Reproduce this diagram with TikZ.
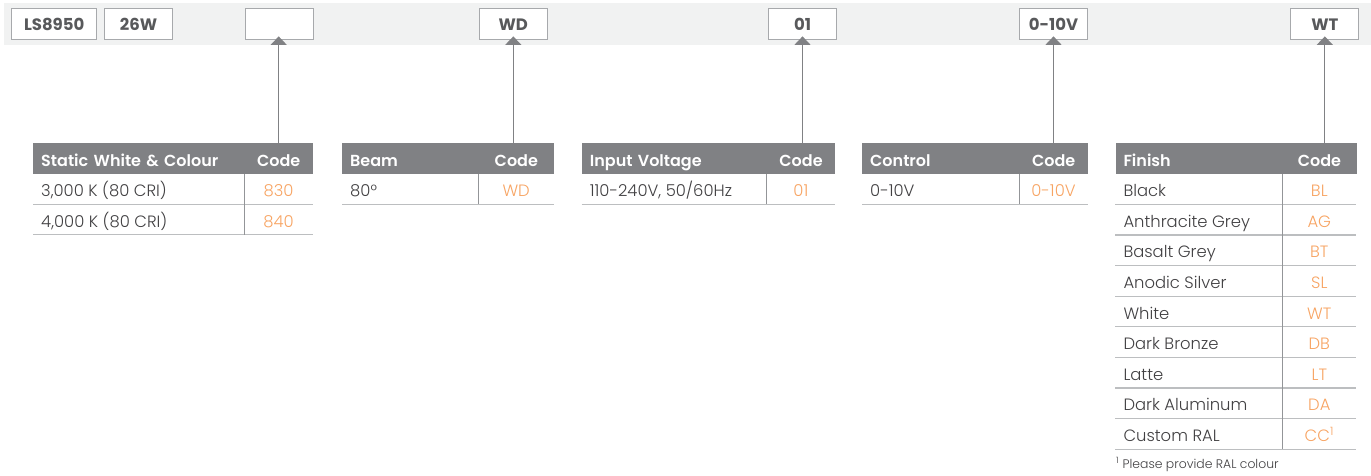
\documentclass[tikz,border=0pt]{standalone}
\usepackage{fontspec}
\usetikzlibrary{arrows.meta}
\IfFontExistsTF{Poppins Light}{\def\myRegName{Poppins Light}}{\def\myRegName{Poppins}}
\IfFontExistsTF{Poppins SemiBold}{\def\myBoldName{Poppins SemiBold}}{\def\myBoldName{Poppins Bold}}
\edef\mySetup{\noexpand\setmainfont{\myRegName}[BoldFont={\myBoldName}]}
\mySetup
\IfFontExistsTF{Poppins Bold}{\newfontfamily\myTopFont{Poppins Bold}}{\newfontfamily\myTopFont{Poppins}}
\definecolor{bandgrey}{HTML}{F1F2F2}
\definecolor{boxgrey}{HTML}{A7A9AC}
\definecolor{boxtext}{HTML}{58595B}
\definecolor{hdrgrey}{HTML}{808184}
\definecolor{rowgrey}{HTML}{BCBEC0}
\definecolor{divgrey}{HTML}{939598}
\definecolor{bodytext}{HTML}{414042}
\definecolor{codeorange}{HTML}{F7A463}
\begin{document}
\begin{tikzpicture}[x=1pt,y=-1pt,
  topbox/.style={draw=boxgrey, line width=1pt, fill=white, minimum width=#1, minimum height=31pt,
    inner sep=0pt, font=\fontsize{16.5}{18}\myTopFont, text=boxtext},
  hdrname/.style={fill=hdrgrey, anchor=north west, minimum height=31pt, inner ysep=0pt, inner xsep=8pt,
    text width=#1, align=left, text height=16.5pt, text depth=0pt, text=white,
    font=\fontsize{16}{18}\selectfont\bfseries},
  hdrcode/.style={fill=hdrgrey, anchor=north west, minimum height=31pt, inner ysep=0pt, inner xsep=0pt,
    text width=#1, align=center, text height=16.5pt, text depth=0pt, text=white,
    font=\fontsize{16}{18}\selectfont\bfseries},
  bodyname/.style={anchor=base west, inner sep=0pt, text=bodytext, font=\fontsize{16.4}{18}\selectfont},
  bodycode/.style={anchor=base, inner sep=0pt, text=codeorange, font=\fontsize{16.4}{18}\selectfont},
  rowline/.style={draw=rowgrey, line width=1.2pt},
  divline/.style={draw=divgrey, line width=1pt},
  pointer/.style={draw=hdrgrey, line width=1pt, -{Triangle[width=16pt,length=8.5pt]}, shorten >=-4pt}
]
\useasboundingbox (0,0) rectangle (1371,475);
% band
\fill[bandgrey] (4,3) rectangle (1371,44.7);
% top boxes
\node[topbox=85pt]  (bls)  at (54.2,24.4)  {LS8950};
\node[topbox=68.4pt](bw)   at (138.5,24.4) {26W};
\node[topbox=68.3pt](bcct) at (279.2,24.4) {};
\node[topbox=68pt]  (bwd)  at (513.3,24.4) {WD};
\node[topbox=68.4pt](b01)  at (802.5,24.4) {01};
\node[topbox=68.4pt](bctl) at (1053.5,24.4) {0-10V};
\node[topbox=68.3pt](bwt)  at (1324.8,24.4) {WT};

% ---------- Table 1
\node[hdrname=195.3pt] (h1a) at (33,142.5) {Static White \& Colour};
\node[hdrcode=68.4pt]  (h1b) at (244.3,142.5) {Code};
\node[bodyname] (t1r1) at (41,196.7) {3,000 K (80 CRI)};
\node[bodycode] (t1c1) at (278.5,196.7) {830};
\node[bodyname] (t1r2) at (41,227.1) {4,000 K (80 CRI)};
\node[bodycode] (t1c2) at (278.5,227.1) {840};
\draw[rowline] (33,204.3) -- (312.7,204.3);
\draw[rowline] (33,234.6) -- (312.7,234.6);
\draw[divline] (244.3,173.5) -- (244.3,234.6);
\draw[pointer] (h1b.north) -- (h1b.north |- bcct.south);

% ---------- Table 2
\node[hdrname=120.3pt] (h2a) at (342,142.5) {Beam};
\node[hdrcode=75.7pt]  (h2b) at (478.3,142.5) {Code};
\node[bodyname] (t2r1) at (350,196.7) {80°};
\node[bodycode] (t2c1) at (516.2,196.7) {WD};
\draw[rowline] (342,204.3) -- (554,204.3);
\draw[divline] (478.3,173.5) -- (478.3,204.3);
\draw[pointer] (h2b.north -| bwd.south) -- (bwd.south);

% ---------- Table 3
\node[hdrname=169pt] (h3a) at (581.7,142.5) {Input Voltage};
\node[hdrcode=68.3pt] (h3b) at (766.7,142.5) {Code};
\node[bodyname] (t3r1) at (589.7,196.7) {110-240V, 50/60Hz};
\node[bodycode] (t3c1) at (800.9,196.7) {01};
\draw[rowline] (581.7,204.3) -- (835,204.3);
\draw[divline] (766.7,173.5) -- (766.7,204.3);
\draw[pointer] (h3b.north -| b01.south) -- (b01.south);

% ---------- Table 4
\node[hdrname=141.3pt] (h4a) at (862,142.5) {Control};
\node[hdrcode=68.4pt] (h4b) at (1019.3,142.5) {Code};
\node[bodyname] (t4r1) at (870,196.7) {0-10V};
\node[bodycode] (t4c1) at (1053.5,196.7) {0-10V};
\draw[rowline] (862,204.3) -- (1087.7,204.3);
\draw[divline] (1019.3,173.5) -- (1019.3,204.3);
\draw[pointer] (h4b.north -| bctl.south) -- (bctl.south);

% ---------- Table 5
\node[hdrname=151pt] (h5a) at (1115.3,142.5) {Finish};
\node[hdrcode=74pt] (h5b) at (1282.3,142.5) {Code};
\foreach \nm/\cd [count=\i from 0] in {Black/BL, Anthracite Grey/AG, Basalt Grey/BT, Anodic Silver/SL,
    White/WT, Dark Bronze/DB, Latte/LT, Dark Aluminum/DA, Custom RAL/{CC\textsuperscript{1}}}{
  \pgfmathsetmacro\rb{196.7+30.6*\i}
  \pgfmathsetmacro\rl{204.3+30.6*\i}
  \node[bodyname] (t5r\i) at (1123.3,\rb) {\nm};
  \node[bodycode] (t5c\i) at (1319.3,\rb) {\cd};
  \draw[rowline] (1115.3,\rl) -- (1356.3,\rl);
}
\draw[divline] (1282.3,173.5) -- (1282.3,449);
\draw[pointer] (h5b.north -| bwt.south) -- (bwt.south);

\node[anchor=base west, inner sep=0pt, text=bodytext, font=\fontsize{12.4}{14}\selectfont] (foot) at (1116,468)
  {\textsuperscript{1} Please provide RAL colour};
\end{tikzpicture}
\end{document}
